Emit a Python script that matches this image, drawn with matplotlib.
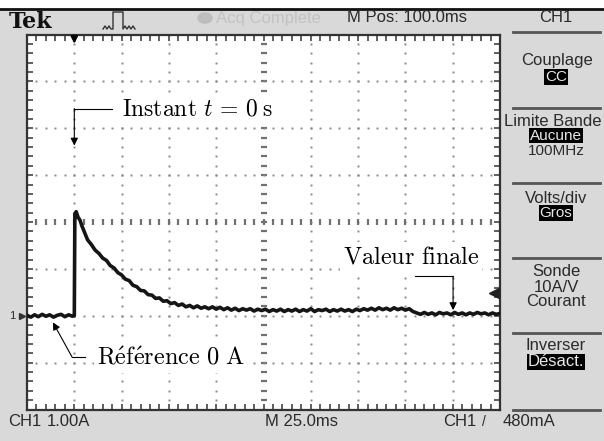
import matplotlib.pyplot as plt
import numpy as np
from matplotlib import font_manager
from matplotlib.lines import Line2D
from matplotlib.patches import Rectangle, Circle

plt.rcParams['mathtext.fontset'] = 'cm'

W, H = 604, 441

# police etroite si elle existe, sinon Liberation Sans
try:
    font_manager.findfont('Liberation Sans Narrow', fallback_to_default=False)
    SANS = ['Liberation Sans Narrow', 'DejaVu Sans']
    FS = 13
except ValueError:
    SANS = ['Liberation Sans', 'DejaVu Sans']
    FS = 12

t_ms = [-25, -23, -21, -19, -17, -15, -13, -11, -9, -7, -5, -3, -1, 0,
        0.3, 1, 2, 3, 4,
        5, 7, 9, 11, 13, 15, 17, 19, 21, 23, 25, 27, 29, 31, 33, 35, 37, 39,
        41, 43, 45, 47, 49, 51, 53, 55, 57, 59, 61,
        63, 65, 67, 69, 71, 73, 75, 77, 79, 81, 83, 85, 87, 89, 91, 93, 95,
        97, 99, 101, 103, 105, 107, 109, 111, 113, 115, 117, 119, 121, 123,
        125, 127, 129, 131, 133, 135, 137, 139, 141, 143, 145, 147, 149, 151,
        153, 155, 157, 159, 161, 163, 165, 167, 169, 171, 173, 175, 177, 179,
        181, 183, 185, 187, 189, 191, 193, 195, 197, 199, 201, 203, 205, 207,
        209, 211, 213, 215, 217, 219, 221, 223, 225]
i_a = [0.01, -0.03, 0.02, -0.02, 0.03, -0.01, 0.02, -0.03, 0.01, 0.03, -0.02, 0.02, -0.01, 0.0,
       2.18, 2.22, 2.10, 2.04, 1.92,
       1.82, 1.62, 1.52, 1.40, 1.33, 1.23, 1.18, 1.07, 1.02, 0.92, 0.87, 0.78, 0.75, 0.65, 0.62, 0.54, 0.53, 0.45,
       0.44, 0.37, 0.38, 0.31, 0.32, 0.26, 0.28, 0.22, 0.25, 0.19, 0.22,
       0.17, 0.21, 0.16, 0.19, 0.15, 0.19, 0.14, 0.18, 0.13, 0.17, 0.12, 0.16, 0.11, 0.15, 0.12, 0.15, 0.10,
       0.14, 0.11, 0.14, 0.09, 0.13, 0.10, 0.14, 0.09, 0.13, 0.10, 0.14, 0.09, 0.13, 0.10,
       0.15, 0.09, 0.13, 0.11, 0.14, 0.09, 0.13, 0.10, 0.14, 0.10, 0.13, 0.09, 0.14, 0.11,
       0.15, 0.12, 0.16, 0.12, 0.17, 0.13, 0.16, 0.12, 0.17, 0.13, 0.16, 0.12, 0.15, 0.09,
       0.06, 0.03, 0.07, 0.03, 0.06, 0.02, 0.07, 0.04, 0.06, 0.02, 0.07, 0.03, 0.06, 0.02,
       0.06, 0.03, 0.07, 0.04, 0.06, 0.02, 0.06, 0.03, 0.05]

trigger_level = 0.48  # A
t_min, t_max = -25, 225
i_min, i_max = -2, 6

bg = '#d9d9d9'
ink = '#2a2a2a'


def fx(x):
    return x / W


def fy(y):
    return 1 - y / H


def ftext(x, y, s, **kw):
    kw.setdefault('family', SANS)
    kw.setdefault('fontsize', FS)
    kw.setdefault('color', ink)
    kw.setdefault('va', 'center')
    return fig.text(fx(x), fy(y), s, **kw)


fig = plt.figure(figsize=(W / 100, H / 100), dpi=100)
fig.patch.set_facecolor(bg)

# bande blanche + filet noir en haut
fig.add_artist(Rectangle((0, fy(8)), 1, 8 / H, transform=fig.transFigure,
                         color='white', zorder=0))
fig.add_artist(Line2D([0, 1], [fy(9), fy(9)], transform=fig.transFigure,
                      color='#111111', lw=2))

ax = fig.add_axes([fx(27), fy(409.5), 473 / W, 375 / H])
ax.set_facecolor('white')
ax.set_xlim(t_min, t_max)
ax.set_ylim(i_min, i_max)

# graticule
tt = np.arange(t_min, t_max + 0.1, 5)
ii = np.arange(i_min, i_max + 0.01, 0.2)
for tv in range(0, 201, 25):
    if tv == 100:
        ax.plot([tv] * len(ii), ii, ls='none', marker='_', ms=4.5, mew=1.6,
                color='#707070', zorder=1)
    else:
        ax.plot([tv] * len(ii), ii, ls='none', marker='s', ms=1.4, mew=0,
                color='#888888', zorder=1)
for iv in range(-1, 6):
    if iv == 2:
        ax.plot(tt, [iv] * len(tt), ls='none', marker='|', ms=4.5, mew=1.6,
                color='#707070', zorder=1)
    else:
        ax.plot(tt, [iv] * len(tt), ls='none', marker='s', ms=1.4, mew=0,
                color='#888888', zorder=1)

ax.set_xticks(tt)
ax.set_yticks(ii)
ax.tick_params(direction='in', length=4, width=1.2, color='#444444',
               top=True, right=True, labelbottom=False, labelleft=False)
for sp in ax.spines.values():
    sp.set_color('#333333')
    sp.set_linewidth(1.6)

# trace
ax.plot(t_ms, i_a, color='#151515', lw=2.6, zorder=4)

# marqueurs
ax.plot([t_max - 3.2], [trigger_level], marker='<', ms=7, color='#222222',
        ls='none', zorder=5)
ax.plot([t_min - 2.6], [0], marker='>', ms=5, color='#333333', ls='none',
        clip_on=False)
ftext(12, 316, '1', fontsize=8, ha='center')
ax.annotate('', xy=(0, 1 - 12 / 375), xycoords=('data', 'axes fraction'),
            xytext=(0, 1 - 1 / 375),
            arrowprops=dict(arrowstyle='-|>', color='black', lw=1.5,
                            mutation_scale=10))

# annotations
arrow = dict(arrowstyle='-|>', color='black', lw=0.8, mutation_scale=11,
             shrinkA=0, shrinkB=0)
box = dict(fc='white', ec='none', pad=2)

ax.plot([19.9, 0], [4.42, 4.42], color='black', lw=0.8, zorder=5)
ax.annotate('', xy=(0, 3.63), xytext=(0, 4.42), arrowprops=arrow, zorder=5)
ax.text(25.2, 4.42, r'$\mathrm{Instant}\ t\,=\,0\;\mathrm{s}$', fontsize=17,
        va='center', bbox=box, zorder=3)

ax.plot([5.6, -1.2], [-0.88, -0.88], color='black', lw=0.8, zorder=5)
ax.annotate('', xy=(-11.3, -0.14), xytext=(-1.2, -0.88), arrowprops=arrow,
            zorder=5)
ax.text(12.0, -0.9, r"$\mathrm{R\'ef\'erence\ 0\ A}$", fontsize=17.5,
        va='center', bbox=box, zorder=3)

ax.plot([180.1, 200.2], [0.84, 0.84], color='black', lw=0.8, zorder=5)
ax.annotate('', xy=(200.2, 0.12), xytext=(200.2, 0.84), arrowprops=arrow,
            zorder=5)
ax.text(142.0, 1.27, r'$\mathrm{Valeur\ finale}$', fontsize=17.5,
        va='center', bbox=box, zorder=3)

# barre du haut
ftext(9, 22, 'Tek', family=['DejaVu Serif'], fontweight='bold',
      fontsize=16, color='#111111')
px = [103, 105, 107, 109, 111, 113, 113, 123, 123, 125, 127, 129, 131, 133, 135]
py = [29, 26, 29, 26, 29, 29, 12, 12, 29, 26, 29, 26, 29, 26, 29]
fig.add_artist(Line2D([fx(v) for v in px], [fy(v) for v in py],
                      transform=fig.transFigure, color='#333333', lw=1))
fig.add_artist(Circle((fx(205), fy(18)), 7 / W, transform=fig.transFigure,
                      color='#bdbdbd'))
ftext(216, 18, 'Acq Complete', color='#c2c2c2')
ftext(347, 18, 'M Pos: 100.0ms')
ftext(556, 18, 'CH1', ha='center')

# menu de droite
for ys in [32, 108, 183, 258, 333, 410]:
    fig.add_artist(Line2D([fx(513), fx(600)], [fy(ys), fy(ys)],
                          transform=fig.transFigure, color='#555555', lw=2))

inv = dict(fc='black', ec='none', pad=0.6)
ftext(557, 61, 'Couplage', ha='center')
ftext(556, 77, 'CC', ha='center', color='#e8e8e8', bbox=inv, fontsize=FS - 1)
ftext(553, 122, 'Limite Bande', ha='center')
ftext(556, 135.5, 'Aucune', ha='center', color='#e8e8e8', bbox=inv,
      fontsize=FS - 1)
ftext(556, 151, '100MHz', ha='center', fontsize=FS - 1)
ftext(556, 198, 'Volts/div', ha='center')
ftext(556, 213, 'Gros', ha='center', color='#e8e8e8', bbox=inv,
      fontsize=FS - 1)
ftext(556, 271, 'Sonde', ha='center')
ftext(556, 287, '10A/V', ha='center')
ftext(556, 302, 'Courant', ha='center')
ftext(556, 346, 'Inverser', ha='center')
ftext(556, 362, 'Désact.', ha='center', color='#e8e8e8', bbox=inv)

# barre du bas
ftext(8, 422, 'CH1')
ftext(47, 422, '1.00A')
ftext(265, 422, 'M 25.0ms')
ftext(443, 422, 'CH1')
ftext(482, 422, '/', fontsize=10)
ftext(503, 422, '480mA')

fig.savefig('out.png', dpi=100, facecolor=fig.get_facecolor())
